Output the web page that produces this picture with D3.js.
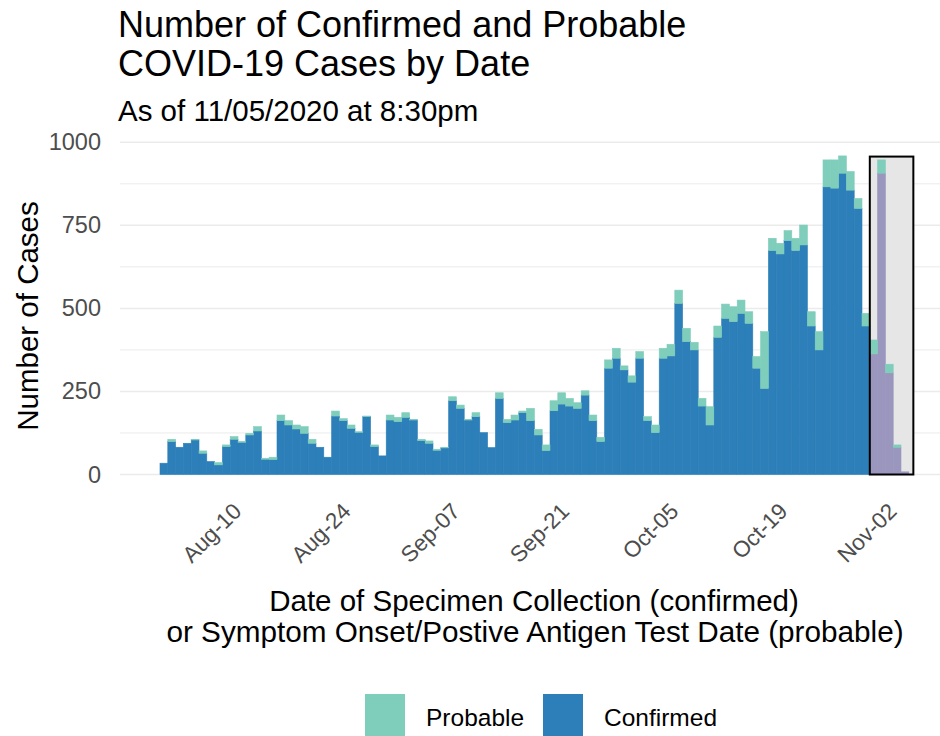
<!DOCTYPE html>
<html>
<head>
<meta charset="utf-8">
<script src="https://cdnjs.cloudflare.com/ajax/libs/d3/7.8.5/d3.min.js"></script>
<style>
  body { margin: 0; background: #fff; }
  svg { font-family: "Liberation Sans", Arial, sans-serif; }
</style>
</head>
<body>
<div id="chart"></div>
<script>
// one bar per day, starting here
var startDate = "2020-07-31";

var confirmed = [34,99,82,94,104,64,39,29,84,106,
  97,119,131,46,45,162,149,137,124,94,
  82,52,176,162,139,127,174,84,56,164,
  159,172,164,102,94,73,80,222,199,164,
  174,126,81,229,156,164,186,162,119,72,
  192,212,206,199,239,162,99,320,350,315,
  278,350,162,126,350,357,515,400,375,206,
  149,413,470,460,485,455,320,259,674,664,
  704,674,691,447,375,866,862,907,856,801,
  447,363,907,306,82,8];

var probable = [0,7,0,0,2,7,0,7,5,8,
  3,5,13,3,7,17,13,12,20,12,
  0,0,15,6,10,2,2,5,0,15,
  13,14,2,4,7,3,2,12,10,2,
  12,0,0,17,10,15,5,37,17,17,
  30,34,23,17,13,17,13,25,30,12,
  19,20,12,23,30,35,40,40,23,23,
  55,34,43,45,40,35,35,171,37,32,
  30,37,60,43,55,81,85,52,56,30,
  38,42,40,26,7,0];

var tickDates = ["2020-08-10","2020-08-24","2020-09-07","2020-09-21","2020-10-05","2020-10-19","2020-11-02"];
var yTicks = [0, 250, 500, 750, 1000];
var gridTicks = [0, 125, 250, 375, 500, 625, 750, 875, 1000];
var legendKeys = ["Probable", "Confirmed"];

// shaded box over the most recent (incomplete) days
var boxFrom = "2020-10-30";
var boxTo = "2020-11-04";
var boxTop = 957;

var colProbable = "#7fcdbb";
var colConfirmed = "#2c7fb8";
var colRecent = "#9a96be";

var W = 940, H = 736;
var parseDay = d3.utcParse("%Y-%m-%d");
var day0 = parseDay(startDate);

var data = confirmed.map(function(c, i) {
  return { date: d3.utcDay.offset(day0, i), confirmed: c, probable: probable[i] };
});

var svg = d3.select("#chart").append("svg")
    .attr("width", W)
    .attr("height", H);

var panelLeft = 120, panelRight = 940;

var x = d3.scaleUtc()
    .domain([day0, d3.utcDay.offset(day0, data.length)])
    .range([160, 908.8]);

var y = d3.scaleLinear()
    .domain([0, 1000])
    .range([474.5, 142.3]);

// gridlines
svg.append("g").selectAll("line")
    .data(gridTicks).enter()
    .append("line")
    .attr("x1", panelLeft)
    .attr("x2", panelRight)
    .attr("y1", function(d) { return y(d); })
    .attr("y2", function(d) { return y(d); })
    .attr("stroke", "#ebebeb")
    .attr("stroke-width", function(d) { return d % 250 === 0 ? 1.5 : 1; });

var boxStart = parseDay(boxFrom);
var boxEnd = d3.utcHour.offset(parseDay(boxTo), 14);

// grey background of box
svg.append("rect")
    .attr("x", x(boxStart))
    .attr("y", y(boxTop))
    .attr("width", x(boxEnd) - x(boxStart))
    .attr("height", y(0) - y(boxTop))
    .attr("fill", "#e6e6e6");

// stacked bars
var stack = d3.stack().keys(["confirmed", "probable"]);
var series = stack(data);

function barFill(d) {
  if (d.key === "probable") return colProbable;
  return d.data.date >= boxStart ? colRecent : colConfirmed;
}

svg.append("g").selectAll("g")
    .data(series).enter()
    .append("g")
    .attr("class", function(s) { return "layer-" + s.key; })
    .selectAll("rect")
    .data(function(s) { return s.map(function(d) { d.key = s.key; return d; }); })
    .enter()
    .filter(function(d) { return d[1] > d[0]; })
    .append("rect")
    .attr("x", function(d) { return x(d.data.date); })
    .attr("width", function(d) { return x(d3.utcDay.offset(d.data.date, 1)) - x(d.data.date); })
    .attr("y", function(d) { return y(d[1]); })
    .attr("height", function(d) { return y(d[0]) - y(d[1]); })
    .attr("fill", barFill)
    .attr("stroke", barFill)
    .attr("stroke-width", 0.6);

// box outline
svg.append("rect")
    .attr("x", x(boxStart))
    .attr("y", y(boxTop))
    .attr("width", x(boxEnd) - x(boxStart))
    .attr("height", y(0) - y(boxTop))
    .attr("fill", "none")
    .attr("stroke", "#000")
    .attr("stroke-width", 2);

// y axis
var yAxis = svg.append("g")
    .attr("transform", "translate(" + panelLeft + ",0)")
    .call(d3.axisLeft(y).tickValues(yTicks).tickFormat(d3.format("d")).tickSize(0).tickPadding(19));
yAxis.select(".domain").remove();
yAxis.selectAll("text")
    .attr("fill", "#4d4d4d")
    .style("font-size", "23.5px")
    .style("font-family", "Liberation Sans, Arial, sans-serif");

// x axis
var xAxis = svg.append("g")
    .attr("transform", "translate(0," + 507 + ")")
    .call(d3.axisBottom(x)
      .tickValues(tickDates.map(function(t) { return d3.utcHour.offset(parseDay(t), 12); }))
      .tickFormat(d3.utcFormat("%b-%d"))
      .tickSize(0));
xAxis.select(".domain").remove();
xAxis.selectAll("text")
    .attr("fill", "#4d4d4d")
    .style("font-size", "22.5px")
    .style("font-family", "Liberation Sans, Arial, sans-serif")
    .attr("text-anchor", "end")
    .attr("y", 0)
    .attr("dy", "0.35em")
    .attr("transform", "translate(-5,0) rotate(-45)");

// titles
svg.append("text")
    .attr("x", 118).attr("y", 37)
    .style("font-size", "36px")
    .text("Number of Confirmed and Probable");
svg.append("text")
    .attr("x", 118).attr("y", 76)
    .style("font-size", "36px")
    .text("COVID-19 Cases by Date");
svg.append("text")
    .attr("x", 118).attr("y", 121)
    .style("font-size", "29.5px")
    .text("As of 11/05/2020 at 8:30pm");

// axis titles
svg.append("text")
    .attr("x", 534).attr("y", 611)
    .attr("text-anchor", "middle")
    .style("font-size", "29.5px")
    .text("Date of Specimen Collection (confirmed)");
svg.append("text")
    .attr("x", 535).attr("y", 642)
    .attr("text-anchor", "middle")
    .style("font-size", "29.7px")
    .text("or Symptom Onset/Postive Antigen Test Date (probable)");
svg.append("text")
    .attr("transform", "translate(38,316) rotate(-90)")
    .attr("text-anchor", "middle")
    .style("font-size", "29.5px")
    .text("Number of Cases");

// legend
var legendX = [365, 543];
var legend = svg.append("g").selectAll("g")
    .data(legendKeys).enter()
    .append("g")
    .attr("transform", function(d, i) { return "translate(" + legendX[i] + ",694)"; });
legend.append("rect")
    .attr("width", 40)
    .attr("height", 46)
    .attr("fill", function(d) { return d === "Probable" ? colProbable : colConfirmed; });
legend.append("text")
    .attr("x", 61)
    .attr("y", 32)
    .style("font-size", "24.5px")
    .text(function(d) { return d; });
</script>
</body>
</html>
